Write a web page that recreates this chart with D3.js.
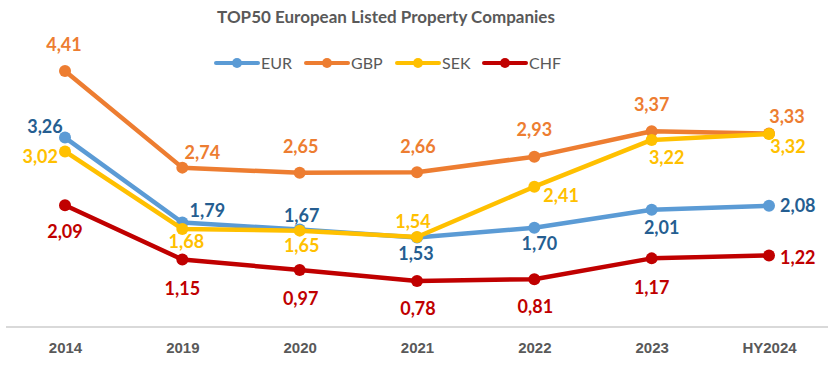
<!DOCTYPE html>
<html lang="en">
<head>
<meta charset="utf-8">
<script src="https://d3js.org/d3.v7.min.js"></script>
<style>
  body { margin: 0; background: #fff; }
</style>
</head>
<body>
<script>
// data
const periods = ["2014", "2019", "2020", "2021", "2022", "2023", "HY2024"];
const seriesNames = ["EUR", "GBP", "SEK", "CHF"];
const eur = [3.26, 1.79, 1.67, 1.53, 1.70, 2.01, 2.08];
const gbp = [4.41, 2.74, 2.65, 2.66, 2.93, 3.37, 3.33];
const sek = [3.02, 1.68, 1.65, 1.54, 2.41, 3.22, 3.32];
const chf = [2.09, 1.15, 0.97, 0.78, 0.81, 1.17, 1.22];

// label nudges (dx, dy from the point, anchor) - hand placed like in the original
const eurLbl = [[-20, -5, "middle"], [25, -6, "middle"], [2, -7, "middle"], [-1, 22, "middle"], [5, 22, "middle"], [10, 24, "middle"], [11, 6, "start"]];
const gbpLbl = [[-1, -20, "middle"], [20, -9, "middle"], [1, -20, "middle"], [1, -19, "middle"], [0, -21, "middle"], [0, -20, "middle"], [18, -11, "middle"]];
const sekLbl = [[-7, 12, "end"], [4, 19, "middle"], [2, 21, "middle"], [-4, -9, "middle"], [9, 15, "start"], [15, 24, "middle"], [19, 19, "middle"]];
const chfLbl = [[0, 33, "middle"], [0, 35, "middle"], [1, 35, "middle"], [1, 34, "middle"], [1, 34, "middle"], [0, 36, "middle"], [11, 9, "start"]];

const lineColors = ["#5b9bd5", "#ed7d31", "#ffc000", "#c00000"];
const labelColors = ["#255e91", "#ed7d31", "#ffc000", "#c00000"];

const series = [
  { name: seriesNames[0], values: eur, lbl: eurLbl, line: lineColors[0], label: labelColors[0] },
  { name: seriesNames[1], values: gbp, lbl: gbpLbl, line: lineColors[1], label: labelColors[1] },
  { name: seriesNames[2], values: sek, lbl: sekLbl, line: lineColors[2], label: labelColors[2] },
  { name: seriesNames[3], values: chf, lbl: chfLbl, line: lineColors[3], label: labelColors[3] }
];

const width = 828, height = 365;
const svg = d3.select("body").append("svg")
  .attr("width", width)
  .attr("height", height);

const x = d3.scalePoint().domain(periods).range([65, 769]);
const y = d3.scaleLinear().domain([0, 5]).range([326, 37]);

// title
svg.append("text")
  .attr("x", 386).attr("y", 23)
  .attr("text-anchor", "middle")
  .style("font-family", "Lato, 'Open Sans', sans-serif")
  .style("font-weight", "bold")
  .style("font-size", "17px")
  .style("fill", "#595959")
  .text("TOP50 European Listed Property Companies");

// legend
const legendX = [216, 306, 397, 484];
const legend = svg.selectAll("g.legend").data(series).enter().append("g")
  .attr("class", "legend")
  .attr("transform", (d, i) => `translate(${legendX[i]},63)`);
legend.append("line")
  .attr("x1", 0).attr("x2", 42).attr("y1", 0).attr("y2", 0)
  .attr("stroke", d => d.line).attr("stroke-width", 4).attr("stroke-linecap", "round");
legend.append("circle")
  .attr("cx", 21).attr("cy", 0).attr("r", 5).attr("fill", d => d.line);
legend.append("text")
  .attr("x", 45).attr("y", 6)
  .style("font-family", "Lato, 'Open Sans', sans-serif")
  .style("font-size", "16px")
  .style("fill", "#595959")
  .text(d => d.name);

// x axis
const xAxis = d3.axisBottom(x).tickSize(0).tickPadding(15);
const gx = svg.append("g").attr("transform", `translate(0,${y(0) + 1})`).call(xAxis);
gx.select(".domain").remove();
svg.append("line")
  .attr("x1", 6).attr("x2", 828)
  .attr("y1", y(0) + 1).attr("y2", y(0) + 1)
  .attr("stroke", "#d9d9d9").attr("stroke-width", 2);
gx.selectAll("text")
  .style("font-family", "'Liberation Sans', Arial, sans-serif")
  .style("font-weight", "bold")
  .style("font-size", "15px")
  .style("fill", "#595959");

// lines and points
const line = d3.line().x((d, i) => x(periods[i])).y(d => y(d));

const g = svg.selectAll("g.series").data(series).enter().append("g").attr("class", "series");
g.append("path")
  .attr("d", d => line(d.values))
  .attr("fill", "none")
  .attr("stroke", d => d.line)
  .attr("stroke-width", 4.5)
  .attr("stroke-linejoin", "round");
g.selectAll("circle").data(d => d.values.map(v => ({ v, s: d }))).enter().append("circle")
  .attr("cx", (d, i) => x(periods[i]))
  .attr("cy", d => y(d.v))
  .attr("r", 6)
  .attr("fill", d => d.s.line);

// data labels on top of every line
const labels = svg.append("g");
series.forEach(s => {
  labels.selectAll(null).data(s.values.map((v, i) => ({ v, i }))).enter().append("text")
    .attr("x", d => x(periods[d.i]) + s.lbl[d.i][0])
    .attr("y", d => y(d.v) + s.lbl[d.i][1])
    .attr("text-anchor", d => s.lbl[d.i][2])
    .style("font-family", "Lato, 'Open Sans', sans-serif")
    .style("font-weight", "bold")
    .style("font-size", "18px")
    .style("fill", s.label)
    .text(d => d3.format(".2f")(d.v).replace(".", ","));
});
</script>
</body>
</html>
